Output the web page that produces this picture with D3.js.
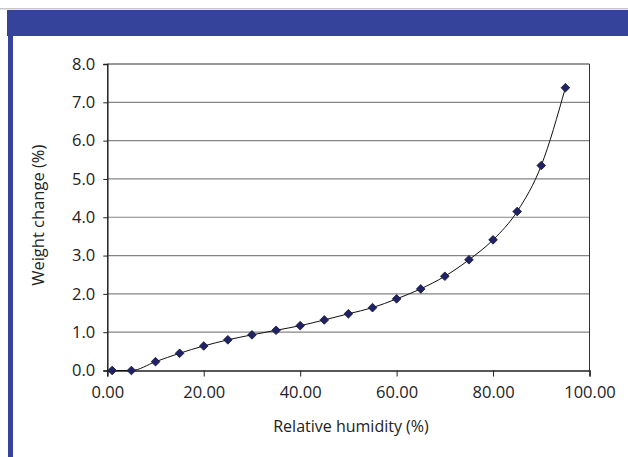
<!DOCTYPE html>
<html>
<head>
<meta charset="utf-8">
<script src="https://cdn.jsdelivr.net/npm/d3@7"></script>
<style>
  body { margin: 0; background: #fff; }
  svg { display: block; font-family: "Open Sans", "Noto Sans", sans-serif; }
</style>
</head>
<body>
<svg id="chart"></svg>
<script>
"use strict";

const W = 628;
const H = 457;

// relative humidity (%) and weight change (%)
const humidity = [1, 5, 10, 15, 20, 25, 30, 35, 40, 45, 50, 55, 60, 65, 70, 75, 80, 85, 90, 95];
const weight   = [0.0, 0.0, 0.23, 0.45, 0.64, 0.80, 0.93, 1.05, 1.17, 1.32, 1.48, 1.64, 1.87, 2.13, 2.46, 2.89, 3.41, 4.15, 5.35, 7.38];
const xTicks = [0, 20, 40, 60, 80, 100];
const yTicks = [0, 1, 2, 3, 4, 5, 6, 7, 8];

const BLUE = '#36439a';
const FONT = '"Open Sans", "Noto Sans", sans-serif';

const svg = d3.select('#chart')
    .attr('width', W)
    .attr('height', H);

// page frame: thin rule, blue header band, blue left bar
svg.append('rect').attr('x', 0).attr('y', 8).attr('width', W).attr('height', 1.5).attr('fill', '#c8c8c8');
svg.append('rect').attr('x', 7).attr('y', 10).attr('width', W - 7).attr('height', 26).attr('fill', BLUE);
svg.append('rect').attr('x', 8).attr('y', 36).attr('width', 5).attr('height', H - 36).attr('fill', BLUE);

const x = d3.scaleLinear().domain([0, 100]).range([107.3, 589.5]);
const y = d3.scaleLinear().domain([0, 8]).range([370.5, 64]);

const plot = svg.append('g');

// horizontal grid
plot.append('g')
    .selectAll('line')
    .data(yTicks.slice(1, -1))
    .join('line')
    .attr('x1', x(0))
    .attr('x2', x(100))
    .attr('y1', d => y(d))
    .attr('y2', d => y(d))
    .attr('stroke', '#858585')
    .attr('stroke-width', 1.2);

// top and right frame
plot.append('path')
    .attr('d', `M${x(0)},${y(8)}H${x(100)}V${y(0)}`)
    .attr('fill', 'none')
    .attr('stroke', '#333')
    .attr('stroke-width', 1);

// axes
const yAxis = d3.axisLeft(y).tickValues(yTicks).tickSize(4).tickPadding(8).tickFormat(d3.format('.1f'));
const xAxis = d3.axisBottom(x).tickValues(xTicks).tickSize(6).tickPadding(10).tickFormat(d3.format('.2f'));

const gy = plot.append('g')
    .attr('transform', `translate(${x(0)},0)`)
    .call(yAxis);
const gx = plot.append('g')
    .attr('transform', `translate(0,${y(0)})`)
    .call(xAxis);

[gx, gy].forEach(g => {
    g.attr('font-size', null).attr('font-family', null);
    g.select('.domain').attr('stroke', '#222').attr('stroke-width', 1.5);
    g.selectAll('.tick line').attr('stroke', '#222').attr('stroke-width', 1);
    g.selectAll('.tick text')
        .attr('fill', '#222')
        .attr('font-size', 16.5)
        .style('font-family', FONT);
});

// series line
const pts = humidity.map((h, i) => [h, weight[i]]);
const line = d3.line()
    .x(d => x(d[0]))
    .y(d => y(d[1]))
    .curve(d3.curveMonotoneX);

plot.append('path')
    .attr('d', line(pts))
    .attr('fill', 'none')
    .attr('stroke', '#111')
    .attr('stroke-width', 1);

// diamond markers
const diamond = d3.symbol().type(d3.symbolDiamond2).size(48);
plot.append('g')
    .selectAll('path')
    .data(pts)
    .join('path')
    .attr('d', diamond)
    .attr('transform', d => `translate(${x(d[0])},${y(d[1])})`)
    .attr('fill', '#1f2366')
    .attr('stroke', '#111133')
    .attr('stroke-width', 0.8);

// axis titles
svg.append('text')
    .attr('x', 351)
    .attr('y', 432)
    .attr('text-anchor', 'middle')
    .attr('fill', '#222')
    .style('font-size', '16px')
    .text('Relative humidity (%)');

svg.append('text')
    .attr('transform', `translate(44,${y(4) - 2}) rotate(-90)`)
    .attr('text-anchor', 'middle')
    .attr('fill', '#222')
    .style('font-size', '16.5px')
    .text('Weight change (%)');
</script>
</body>
</html>
